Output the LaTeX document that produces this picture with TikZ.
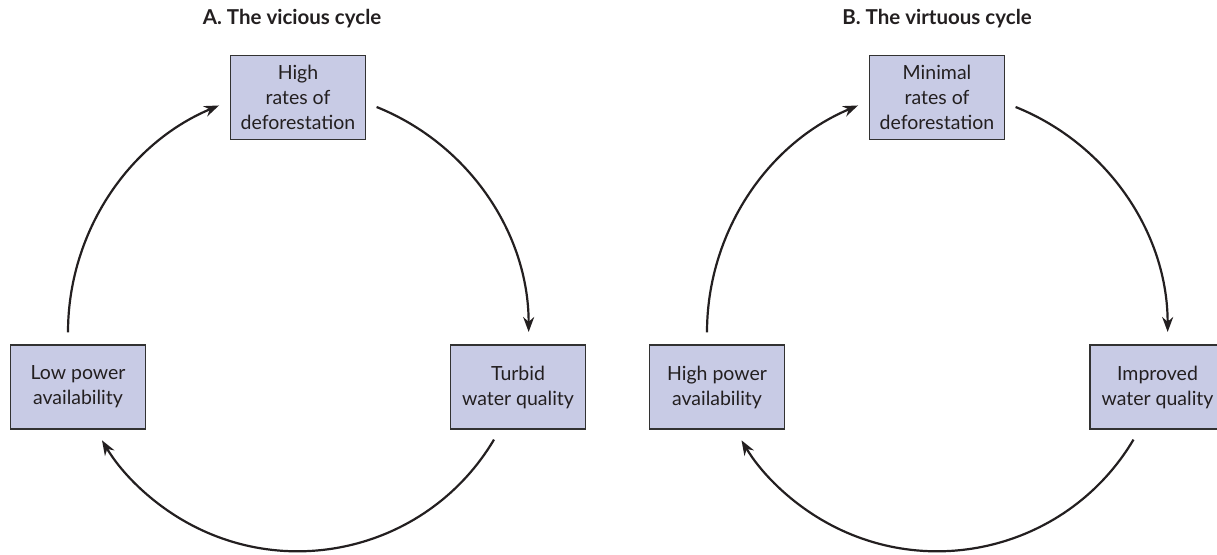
\documentclass[tikz,border=0pt]{standalone}
\usepackage{fontspec}
\setmainfont{Lato}
\usetikzlibrary{arrows.meta}
\definecolor{boxfill}{RGB}{200,203,229}
\definecolor{boxline}{RGB}{50,50,50}
\definecolor{txt}{RGB}{35,31,32}
\begin{document}
\begin{tikzpicture}[x=1pt,y=1pt,
  cyclebox/.style={draw=boxline,line width=1.2pt,fill=boxfill,minimum width=135pt,minimum height=84pt,
    align=center,inner sep=0pt,text=txt,font=\fontsize{19.5}{25}\selectfont},
  ttl/.style={text=txt,font=\fontsize{20.5}{24}\selectfont\bfseries},
  arr/.style={line width=2.2pt,draw=txt,-{Stealth[length=15pt,width=11pt]}}]
\useasboundingbox (0,0) rectangle (1217,554);
% A
\node[ttl] (ta) at (292,535.5) {A. The vicious cycle};
\node[cyclebox] (tA) at (298,456.5) {High\\rates of\\deforestation};
\node[cyclebox] (lA) at (78,167) {Low power\\availability};
\node[cyclebox] (rA) at (518,167) {Turbid\\water quality};
\draw[arr] ([xshift=-10pt,yshift=12pt]lA.north) arc[start angle=180,end angle=112.7,radius=246];
\draw[arr] ([xshift=10.5pt,yshift=-9.5pt]tA.east) arc[start angle=68.1,end angle=0,radius=242.5];
\draw[arr] ([xshift=-24pt,yshift=-10pt]rA.south) arc[start angle=-30.7,end angle=-149.1,radius=228.2];
% B
\node[ttl] (tb) at (937,535.5) {B. The virtuous cycle};
\node[cyclebox] (tB) at (937,456.5) {Minimal\\rates of\\deforestation};
\node[cyclebox] (lB) at (717,167) {High power\\availability};
\node[cyclebox] (rB) at (1157.5,167) {Improved\\water quality};
\draw[arr] ([xshift=-10pt,yshift=12pt]lB.north) arc[start angle=180,end angle=112.7,radius=246];
\draw[arr] ([xshift=10.5pt,yshift=-9.5pt]tB.east) arc[start angle=68.1,end angle=0,radius=242.5];
\draw[arr] ([xshift=-24pt,yshift=-10pt]rB.south) arc[start angle=-30.7,end angle=-149.1,radius=228.2];
\end{tikzpicture}
\end{document}
